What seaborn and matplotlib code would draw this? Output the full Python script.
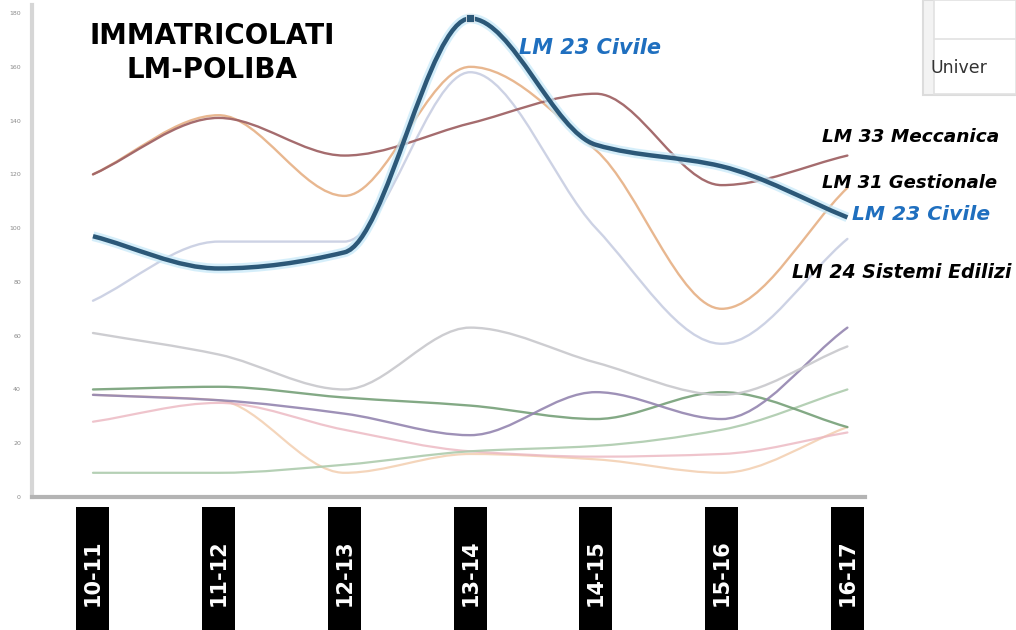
import numpy as np
import matplotlib
matplotlib.use("Agg")
import matplotlib.pyplot as plt
import matplotlib.transforms as mtransforms
from matplotlib.path import Path
from matplotlib.patches import PathPatch, Rectangle
import seaborn as sns

# data
years = ['10-11', '11-12', '12-13', '13-14', '14-15', '15-16', '16-17']
civile = [97, 85, 91, 178, 131, 123, 104]
meccanica = [120, 141, 127, 139, 150, 116, 127]
gestionale = [120, 142, 112, 160, 129, 70, 115]
edilizi = [73, 95, 95, 158, 100, 57, 96]
grigio = [61, 53, 40, 63, 50, 38, 56]
viola = [38, 36, 31, 23, 39, 29, 63]
verde = [40, 41, 37, 34, 29, 39, 26]
verde_chiaro = [9, 9, 12, 17, 19, 25, 40]
rosa = [28, 35, 25, 17, 15, 16, 24]
pesca = [38, 36, 9, 16, 14, 9, 26]
y_ticks = [0, 20, 40, 60, 80, 100, 120, 140, 160, 180]


def smooth_path(xs, ys):
    # monotone cubic (pchip-like) bezier through the points
    xs = np.asarray(xs, float)
    ys = np.asarray(ys, float)
    d = np.diff(ys)
    m = np.zeros_like(ys)
    m[0], m[-1] = d[0], d[-1]
    for i in range(1, len(ys) - 1):
        if d[i - 1] * d[i] > 0:
            m[i] = 2 / (1 / d[i - 1] + 1 / d[i])
    verts = [(xs[0], ys[0])]
    codes = [Path.MOVETO]
    for i in range(len(ys) - 1):
        h = xs[i + 1] - xs[i]
        verts += [(xs[i] + h / 3, ys[i] + m[i] * h / 3),
                  (xs[i + 1] - h / 3, ys[i + 1] - m[i + 1] * h / 3),
                  (xs[i + 1], ys[i + 1])]
        codes += [Path.CURVE4] * 3
    return Path(verts, codes)


sns.set_style("white")
plt.rcParams['font.family'] = ['DejaVu Sans']

fig = plt.figure(figsize=(10.16, 6.3), dpi=100)
ax = fig.add_axes([32 / 1016, 1 - 497 / 630, (865 - 32) / 1016, 492 / 630])
x = np.arange(len(years))

series = [
    (pesca, '#f2cbaa', 1.6, 0.8),
    (rosa, '#ebb6c0', 1.6, 0.8),
    (verde_chiaro, '#adcbad', 1.6, 0.9),
    (verde, '#76a078', 1.7, 0.9),
    (viola, '#9485b0', 1.7, 0.9),
    (grigio, '#c8c8cc', 1.7, 0.9),
    (edilizi, '#c8cee2', 1.7, 0.9),
    (gestionale, '#e6b084', 1.7, 0.9),
    (meccanica, '#a06466', 1.7, 0.95),
]
for vals, col, lw, a in series:
    ax.add_patch(PathPatch(smooth_path(x, vals), fc='none', ec=col, lw=lw, alpha=a,
                           capstyle='round', joinstyle='round'))

# civile: thick dark line with a light glow
ax.add_patch(PathPatch(smooth_path(x, civile), fc='none', ec='#c4e8f8', lw=7, alpha=0.7))
ax.add_patch(PathPatch(smooth_path(x, civile), fc='none', ec='#2c5878', lw=3.2))
sns.scatterplot(x=[x[3]], y=[civile[3]], marker='s', s=40, color='#2c5878', ax=ax, zorder=5)

ax.set_xlim(-0.485, 6.14)
ax.set_ylim(0, 183)
ax.set_xticks(x)
ax.set_xticklabels([])
ax.tick_params(axis='x', length=0)
ax.set_yticks(y_ticks)
ax.set_yticklabels([str(v) for v in y_ticks], fontsize=4.5, color='#8a8a8a')
ax.tick_params(axis='y', length=4, width=1, color='#c8c8c8', direction='inout', pad=6)
for s in ['top', 'right']:
    ax.spines[s].set_visible(False)
ax.spines['left'].set_color('#d6d6d6')
ax.spines['left'].set_linewidth(3)
ax.spines['bottom'].set_color('#b4b4b4')
ax.spines['bottom'].set_linewidth(3)

# black boxes with the years
trans = mtransforms.blended_transform_factory(ax.transData, fig.transFigure)
bw = 33 / 125.8
for xi, lab in zip(x, years):
    ax.add_patch(Rectangle((xi - bw / 2, 0), bw, 123 / 630, transform=trans,
                           fc='black', ec='none', clip_on=False))
    ax.text(xi, 1 - 573 / 630, lab, transform=trans, rotation=90, ha='center', va='center',
            color='white', fontsize=15, fontweight='bold', clip_on=False)

# title and labels
fig.text(212 / 1016, 1 - 53 / 630, 'IMMATRICOLATI\nLM-POLIBA', ha='center', va='center',
         fontsize=20, fontweight='bold', color='black', linespacing=1.3)
lab_kw = dict(fontweight='bold', style='italic', va='center')
fig.text(519 / 1016, 1 - 48 / 630, 'LM 23 Civile', color='#1f6fbf', fontsize=15, **lab_kw)
fig.text(822 / 1016, 1 - 137 / 630, 'LM 33 Meccanica', color='black', fontsize=13.3, **lab_kw)
fig.text(822 / 1016, 1 - 183 / 630, 'LM 31 Gestionale', color='black', fontsize=13, **lab_kw)
fig.text(852 / 1016, 1 - 214 / 630, 'LM 23 Civile', color='#1f6fbf', fontsize=14.6, **lab_kw)
fig.text(792 / 1016, 1 - 272 / 630, 'LM 24 Sistemi Edilizi', color='black', fontsize=13.6, **lab_kw)

# piece of a table in the top right corner
fig.add_artist(Rectangle((923 / 1016, 1 - 95 / 630), 93 / 1016, 95 / 630,
                         transform=fig.transFigure, fc='#f3f3f3', ec='#dcdcdc', lw=1.5))
fig.add_artist(Rectangle((934 / 1016, 1 - 94 / 630), 82 / 1016, 94 / 630,
                         transform=fig.transFigure, fc='white', ec='#e2e2e2', lw=1.2))
fig.add_artist(plt.Line2D([934 / 1016, 1], [1 - 39 / 630, 1 - 39 / 630], transform=fig.transFigure,
                          color='#e2e2e2', lw=1.2))
fig.text(931 / 1016, 1 - 68 / 630, 'Univer', fontsize=12.5, color='#333333', va='center')

fig.savefig('out.png', dpi=100)
